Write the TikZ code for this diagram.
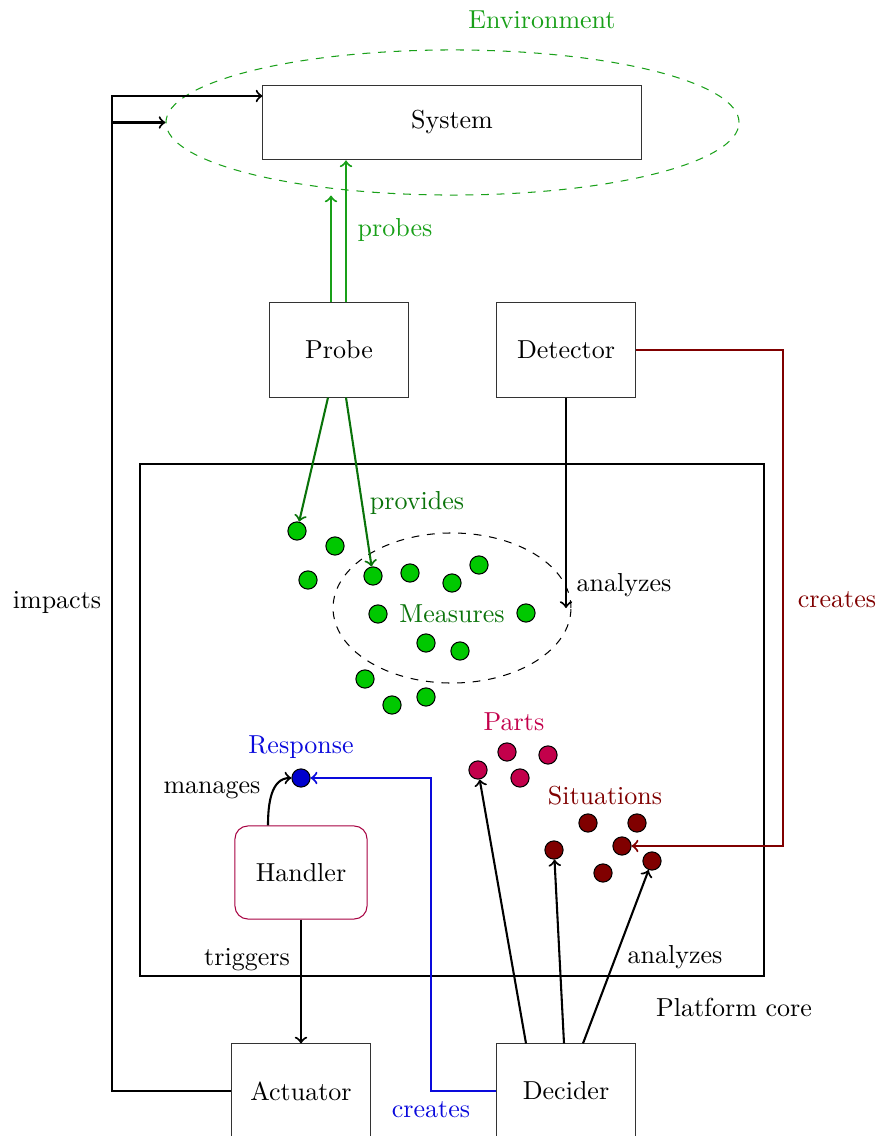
\documentclass[tikz,border=0pt]{standalone}
\usetikzlibrary{shapes.geometric,calc}
\definecolor{envgreen}{RGB}{25,160,25}
\definecolor{darkgreen}{RGB}{10,115,10}
\definecolor{dotgreen}{RGB}{0,200,0}
\definecolor{partcol}{RGB}{195,0,75}
\definecolor{sitcol}{RGB}{128,0,0}
\definecolor{respcol}{RGB}{10,10,220}
\definecolor{dotblue}{RGB}{0,0,205}
\tikzset{
  box/.style={draw=black!80, rectangle, minimum width=53.8pt, minimum height=36.2pt, inner sep=0pt},
  conn/.style={line width=0.8pt},
  dot/.style={circle, draw=black, line width=0.4pt, minimum size=7pt, inner sep=0pt},
  mdot/.style={dot, fill=dotgreen},
  pdot/.style={dot, fill=partcol},
  sdot/.style={dot, fill=sitcol},
  lbl/.style={inner sep=1pt}
}
\begin{document}
\begin{tikzpicture}[x=0.3846pt, y=-0.3846pt]
\useasboundingbox (0,0) rectangle (880,1136);
% environment
\node[lbl, text=envgreen] (envl) at (542,20) {Environment};
\node[ellipse, draw=envgreen, dashed, minimum width=220.4pt, minimum height=55.8pt, inner sep=0pt] (env) at (452.5,122.5) {};
\node[box, minimum width=145.4pt, minimum height=28.8pt] (sys) at (452,122.5) {System};
% probe / detector
\node[box] (probe) at (339,350) {Probe};
\node[box] (det) at (566,350) {Detector};
% platform core
\draw[line width=0.8pt] (140,464) rectangle (764,976);
\node[lbl] (pcl) at (734,1007) {Platform core};
% measures
\node[ellipse, draw=black, dashed, minimum width=91.5pt, minimum height=57.7pt, inner sep=0pt] (ms) at (452,608) {};
\node[lbl, text=darkgreen] (msl) at (452,614) {Measures};
\node[mdot] (m1) at (297,531) {};
\node[mdot] (m2) at (335,546) {};
\node[mdot] (m3) at (308,580) {};
\node[mdot] (m4) at (373,576) {};
\node[mdot] (m5) at (410,573) {};
\node[mdot] (m6) at (452,583) {};
\node[mdot] (m7) at (479,565) {};
\node[mdot] (m8) at (378,614) {};
\node[mdot] (m9) at (526,613) {};
\node[mdot] (m10) at (426,643) {};
\node[mdot] (m11) at (460,651) {};
\node[mdot] (m12) at (365,679) {};
\node[mdot] (m13) at (392,705) {};
\node[mdot] (m14) at (426,697) {};
% parts
\node[lbl, text=partcol] (pl) at (514,722) {Parts};
\node[pdot] (p1) at (478,770) {};
\node[pdot] (p2) at (507,752) {};
\node[pdot] (p3) at (548,755) {};
\node[pdot] (p4) at (520,778) {};
% situations
\node[lbl, text=sitcol] (sl) at (605,796) {Situations};
\node[sdot] (s1) at (554,850) {};
\node[sdot] (s2) at (588,823) {};
\node[sdot] (s3) at (637,823) {};
\node[sdot] (s4) at (622,846) {};
\node[sdot] (s5) at (603,873) {};
\node[sdot] (s6) at (652,861) {};
% response
\node[lbl, text=respcol] (rl) at (301,747) {Response};
\node[dot, fill=dotblue] (resp) at (301,778) {};
% handler
\node[box, draw=partcol!85!black, rounded corners=5pt, minimum width=50.8pt, minimum height=35.8pt] (hand) at (301,872.5) {Handler};
% bottom boxes
\node[box] (act) at (301,1091) {Actuator};
\node[box] (dec) at (566,1091) {Decider};

% connectors
\coordinate (ltop) at (112,96);
\coordinate (lmid) at (112,122.5);
\draw[conn,->] (act.west) -| (ltop) -- (sys.west |- ltop);
\draw[conn,->] (lmid) -- (env.west);
\node[lbl] (impl) at (57,602) {impacts};

\coordinate (pa) at ($(probe.north)+(-8,0)$);
\coordinate (pb) at ($(probe.north)+(7,0)$);
\draw[conn,->,envgreen] (pa) -- (pa |- env.south);
\draw[conn,->,envgreen] (pb) -- (pb |- sys.south);
\node[lbl, text=envgreen] (prl) at (395,230) {probes};

\draw[conn,->,darkgreen] ($(probe.south)+(-11,0)$) -- (m1);
\draw[conn,->,darkgreen] ($(probe.south)+(7,0)$) -- (m4);
\node[lbl, text=darkgreen] (pvl) at (417,503) {provides};

\draw[conn,->] (det.south) -- (det.south |- ms.east);
\node[lbl] (anl1) at (624,585) {analyzes};

\coordinate (rc) at (783,350);
\draw[conn,->,sitcol] (det.east) -- (rc) |- (s4);
\node[lbl, text=sitcol] (crl) at (837,600) {creates};

\coordinate (bc) at (431,1091);
\draw[conn,->,respcol] (dec.west) -- (bc) |- (resp);
\node[lbl, text=respcol] (cbl) at (431,1110) {creates};

\draw[conn,->] ($(hand.north)+(-33,0)$) to[out=90,in=180] (resp);
\node[lbl] (mgl) at (212,790) {manages};

\draw[conn,->] (hand.south) -- (act.north);
\node[lbl] (trl) at (247,960) {triggers};

\draw[conn,->] ($(dec.north)+(-40,0)$) -- (p1);
\draw[conn,->] ($(dec.north)+(-2,0)$) -- (s1);
\draw[conn,->] ($(dec.north)+(17,0)$) -- (s6);
\node[lbl] (anl2) at (675,957) {analyzes};
\end{tikzpicture}
\end{document}
